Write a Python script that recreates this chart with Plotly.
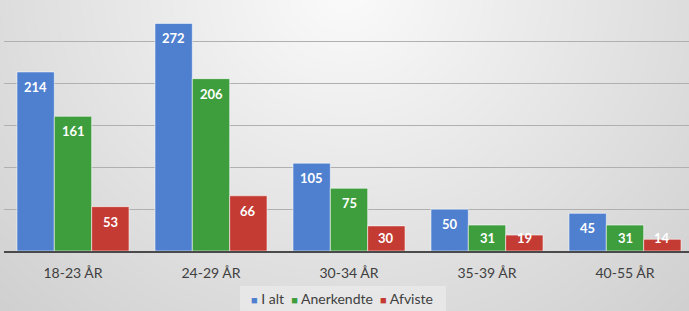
import base64, struct, zlib
import plotly.graph_objects as go

categories = ["18-23 ÅR", "24-29 ÅR", "30-34 ÅR", "35-39 ÅR", "40-55 ÅR"]
i_alt = [214, 272, 105, 50, 45]
anerkendte = [161, 206, 75, 31, 31]
afviste = [53, 66, 30, 19, 14]

W, H = 689, 311

# radial gray background gradient as PNG
def make_png(w, h):
    rows = []
    for y in range(h):
        row = bytearray([0])
        for x in range(w):
            dx = (x - 345) / 345.0
            dy = (y + 10) / 311.0
            d = (dx * dx + dy * dy) ** 0.5
            b = int(max(205, min(250, 251 - 30 * d)))
            row += bytes([b, b, b])
        rows.append(bytes(row))
    raw = b"".join(rows)
    def chunk(t, data):
        c = struct.pack(">I", len(data)) + t + data
        return c + struct.pack(">I", zlib.crc32(t + data) & 0xffffffff)
    png = b"\x89PNG\r\n\x1a\n"
    png += chunk(b"IHDR", struct.pack(">IIBBBBB", w, h, 8, 2, 0, 0, 0))
    png += chunk(b"IDAT", zlib.compress(raw, 9))
    png += chunk(b"IEND", b"")
    return "data:image/png;base64," + base64.b64encode(png).decode()

bg = make_png(W, H)

ml, mr, mt, mb = 4, 0, 0, 60
pw, ph = W - ml - mr, H - mt - mb
ymax = 300.0
px_per_unit = ph / ymax

colors = ["#4f7fcf", "#3e9e3e", "#c43b33"]
names = ["I alt", "Anerkendte", "Afviste"]
series = [i_alt, anerkendte, afviste]
bar_px = 37.4

fig = go.Figure()
annotations = []
for k, (name, vals, col) in enumerate(zip(names, series, colors)):
    fig.add_trace(go.Bar(
        x=categories, y=vals, name=name,
        marker=dict(color=col, line=dict(color="rgba(255,255,255,0.55)", width=1)),
        hoverinfo="skip", showlegend=False,
    ))
    for cat, v in zip(categories, vals):
        ly = max(v - 15 / px_per_unit, 13 / px_per_unit)
        annotations.append(dict(
            x=cat, y=ly, xref="x", yref="y", text=f"<b>{v}</b>", showarrow=False,
            xshift=(k - 1) * bar_px, yanchor="middle", xanchor="center",
            font=dict(family="Lato", size=13, color="white")))

legend_text = "  ".join(
    f"<span style='color:{c};font-size:11px'>■</span> {n}" for n, c in zip(names, colors))
annotations.append(dict(
    x=(342 - ml) / pw, y=-(298 - ph) / ph, xref="paper", yref="paper",
    text=legend_text, showarrow=False, xanchor="center", yanchor="middle",
    font=dict(family="Lato", size=14, color="#404040")))

fig.update_layout(
    width=W, height=H,
    margin=dict(l=ml, r=mr, t=mt, b=mb),
    paper_bgcolor="rgba(0,0,0,0)", plot_bgcolor="rgba(0,0,0,0)",
    barmode="group", bargap=0.188, bargroupgap=0,
    font=dict(family="Lato", color="#404040"),
    images=[dict(source=bg, xref="paper", yref="paper",
                 x=-ml / pw, y=1 + mt / ph, sizex=W / pw, sizey=H / ph,
                 xanchor="left", yanchor="top", sizing="stretch", layer="below")],
    shapes=[dict(type="rect", xref="paper", yref="paper", layer="below",
                 x0=(240 - ml) / pw, x1=(446 - ml) / pw,
                 y0=-(311 - ph) / ph, y1=-(286 - ph) / ph,
                 fillcolor="rgba(238,238,238,0.6)", line=dict(width=0))],
    annotations=annotations,
    showlegend=False,
)
fig.update_xaxes(range=[-0.5, -0.5 + pw / 138.0], showline=True, linecolor="#4a4a4a",
                 linewidth=2, ticks="outside", ticklen=8, tickcolor="rgba(0,0,0,0)",
                 tickfont=dict(family="Lato", size=14, color="#404040"), showgrid=False)
fig.update_yaxes(range=[0, ymax], dtick=50, showgrid=True, gridcolor="#b0b0b0",
                 gridwidth=1, showticklabels=False, zeroline=False)

fig.write_html("out.html", config={"displayModeBar": False},
               post_script="document.body.style.margin='0px';")
